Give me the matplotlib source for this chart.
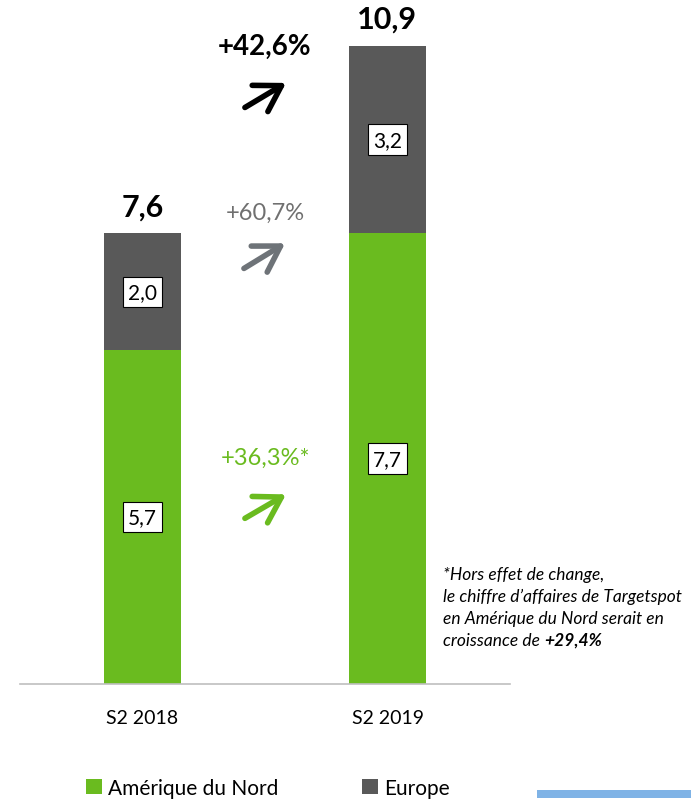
import matplotlib.pyplot as plt
from matplotlib.patches import Rectangle

plt.rcParams['font.family'] = ['Lato', 'DejaVu Sans']

categories = ['S2 2018', 'S2 2019']
amerique = [5.7, 7.7]
europe = [2.0, 3.2]
totals = ['7,6', '10,9']
amerique_labels = ['5,7', '7,7']
europe_labels = ['2,0', '3,2']
growth_total = '+42,6%'
growth_europe = '+60,7%'
growth_amerique = '+36,3%*'

green = '#6ABB1F'
grey = '#595959'

fig = plt.figure(figsize=(6.91, 8.03), dpi=100)
ax = fig.add_axes([20/691, 118/803, 490/691, 676/803])

x = [0, 1]
w = 0.314
b1 = ax.bar(x, amerique, w, color=green, label='Amérique du Nord')
b2 = ax.bar(x, europe, w, bottom=amerique, color=grey, label='Europe')

box = dict(boxstyle='square,pad=0.25', fc='white', ec='black', lw=0.8)
for i in x:
    ax.text(i, amerique[i] / 2, amerique_labels[i], ha='center', va='center',
            fontsize=15, bbox=box)
    ax.text(i, amerique[i] + europe[i] / 2, europe_labels[i], ha='center',
            va='center', fontsize=15, bbox=box)
    ax.annotate(totals[i], (i, amerique[i] + europe[i]), xytext=(0, 27),
                textcoords='offset pixels', ha='center', va='center',
                fontsize=22, fontweight='bold')

# growth annotations
ax.text(0.5, 10.9, growth_total, ha='center', va='center', fontsize=20,
        fontweight='bold', color='black')
ax.text(0.5, 8.06, growth_europe, ha='center', va='center', fontsize=17,
        color='#707070')
ax.text(0.5, 3.88, growth_amerique, ha='center', va='center', fontsize=17,
        color=green)

arrows = [((0.418, 9.85), (0.586, 10.27), 'black'),
          ((0.414, 7.10), (0.582, 7.53), '#6E7378'),
          ((0.418, 2.83), (0.586, 3.24), green)]
for start, end, c in arrows:
    ax.annotate('', xy=end, xytext=start,
                arrowprops=dict(arrowstyle='->,head_length=0.9,head_width=0.55',
                                color=c, lw=4, mutation_scale=20,
                                capstyle='round', joinstyle='round',
                                shrinkA=0, shrinkB=0))

ax.set_xlim(-0.5, 1.5)
ax.set_ylim(0, 11.55)
ax.set_yticks([])
ax.set_xticks(x)
ax.set_xticklabels(categories, fontsize=14)
ax.tick_params(axis='x', length=0, pad=18)
for s in ['top', 'right', 'left']:
    ax.spines[s].set_visible(False)
ax.spines['bottom'].set_color('#BFBFBF')
ax.spines['bottom'].set_linewidth(1.2)

# footnote
fx = 443 / 691
fs = 12.5
lines = ['*Hors effet de change,',
         'le chiffre d\u2019affaires de Targetspot',
         'en Amérique du Nord serait en']
ys = [575, 597, 619]
for t, yy in zip(lines, ys):
    fig.text(fx, 1 - yy / 803, t, fontsize=fs, style='italic', va='center')
t4 = fig.text(fx, 1 - 641 / 803, 'croissance de ', fontsize=fs,
              style='italic', va='center')
fig.canvas.draw()
bb = t4.get_window_extent()
fig.text(bb.x1 / 691, 1 - 641 / 803, '+29,4%', fontsize=fs, style='italic',
         fontweight='bold', va='center')

fig.legend(handles=[b1, b2], loc='center', bbox_to_anchor=(268 / 691, 1 - 789 / 803),
           ncol=2, frameon=False, fontsize=15, handlelength=0.75,
           handleheight=0.75, handletextpad=0.3, columnspacing=4.0)

fig.add_artist(Rectangle((537 / 691, 1 - 799 / 803), 154 / 691, 8 / 803,
                         transform=fig.transFigure, color='#7FB3E6', lw=0))

fig.savefig('out.png', dpi=100)
